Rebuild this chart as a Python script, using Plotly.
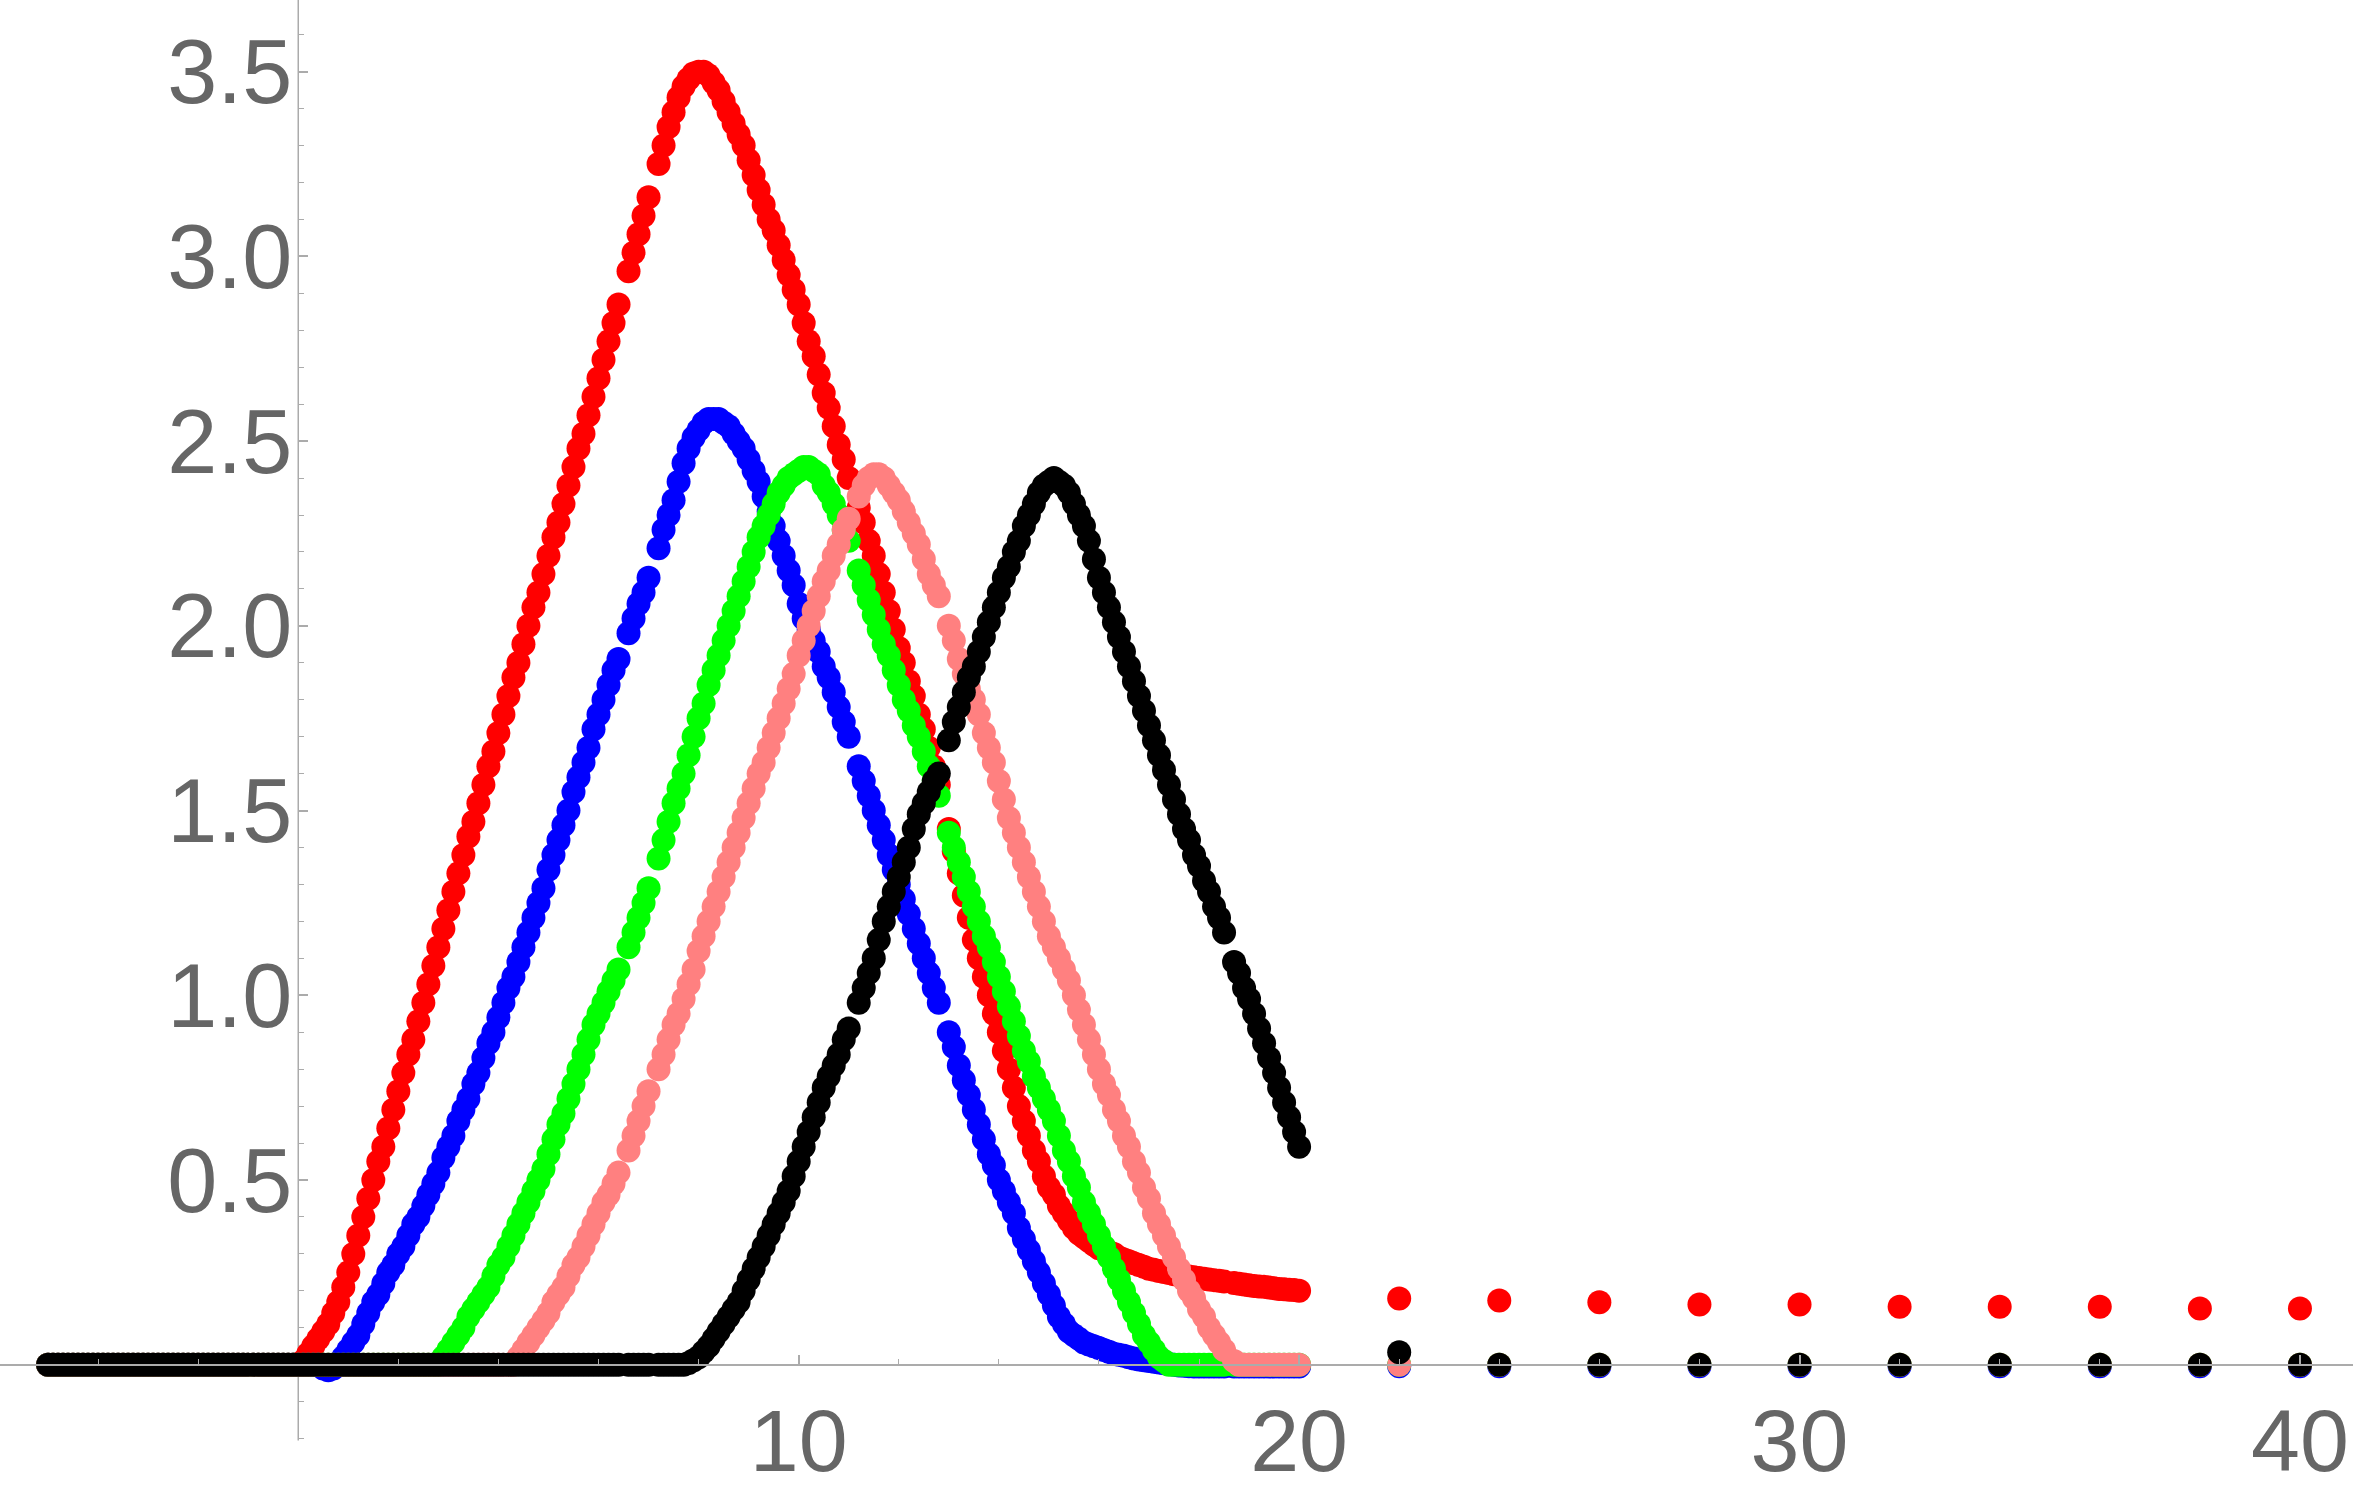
import numpy as np
import plotly.graph_objects as go

# ---------------- data ----------------
# dense sampling grid: x = -5.0 ... 20.0 in steps of 0.1 (251 samples); None = sample absent in the picture
x_dense = np.round(np.arange(-50, 201) / 10.0, 1).tolist()
# sparse tail samples
x_sparse = [22, 24, 26, 28, 30, 32, 34, 36, 38, 40]

Z10 = [0, 0, 0, 0, 0, 0, 0, 0, 0, 0]

red_dense = (
    Z10 + Z10 + Z10 + Z10 + Z10 +                                   # -5 .. -0.1
    [0, 0.01, 0.03, 0.05, 0.07, 0.09, 0.11, 0.14, 0.17, 0.21] +        # 0
    [0.25, 0.30, 0.35, 0.40, 0.45, 0.50, 0.55, 0.59, 0.64, 0.69] +     # 1
    [0.74, 0.79, 0.84, 0.88, 0.93, 0.98, 1.03, 1.08, 1.13, 1.18] +     # 2
    [1.23, 1.28, 1.33, 1.38, 1.43, 1.47, 1.52, 1.57, 1.62, 1.66] +     # 3
    [1.71, 1.76, 1.81, 1.86, 1.90, 1.95, 2.00, 2.05, 2.09, 2.14] +     # 4
    [2.19, 2.24, 2.28, 2.33, 2.38, 2.43, 2.48, 2.52, 2.57, 2.62] +     # 5
    [2.67, 2.72, 2.77, 2.82, 2.87, None, 2.96, 3.01, 3.06, 3.11] +     # 6
    [3.16, None, 3.25, 3.30, 3.35, 3.39, 3.43, 3.46, 3.48, 3.495] +    # 7
    [3.50, 3.50, 3.49, 3.47, 3.45, 3.42, 3.39, 3.36, 3.33, 3.30] +     # 8
    [3.26, 3.22, 3.18, 3.14, 3.10, 3.07, 3.03, 2.99, 2.95, 2.91] +     # 9
    [2.87, 2.82, 2.77, 2.73, 2.68, 2.63, 2.59, 2.54, 2.49, 2.45] +     # 10
    [2.40, None, 2.32, 2.28, 2.23, 2.19, 2.14, 2.09, 2.04, 1.99] +     # 11
    [1.94, 1.90, 1.85, 1.81, 1.76, 1.72, 1.67, 1.62, 1.57, None] +     # 12
    [1.45, 1.39, 1.33, 1.27, 1.21, 1.15, 1.10, 1.05, 1.00, 0.95] +     # 13
    [0.90, 0.85, 0.80, 0.75, 0.70, 0.66, 0.62, 0.58, 0.55, 0.51] +     # 14
    [0.48, 0.46, 0.43, 0.41, 0.39, 0.37, 0.355, 0.345, 0.335, 0.325] + # 15
    [0.315, 0.31, 0.305, 0.30, 0.29, 0.285, 0.28, 0.275, 0.27, 0.265] +  # 16
    [0.26, 0.257, 0.254, 0.251, 0.248, 0.245, 0.243, 0.241, 0.239, 0.237] +  # 17
    [0.235, 0.233, 0.231, 0.229, 0.227, 0.225, None, 0.221, 0.219, 0.217] +  # 18
    [0.215, 0.213, 0.212, 0.211, 0.209, 0.207, 0.205, 0.204, 0.203, 0.202] +  # 19
    [0.20]
)
red_sparse = [0.179, 0.174, 0.169, 0.163, 0.163, 0.157, 0.157, 0.157, 0.152, 0.152]

blue_dense = (
    Z10 + Z10 + Z10 + Z10 + Z10 +
    [0, 0, 0, 0, 0, -0.01, -0.015, -0.01, 0.0, 0.02] +
    [0.04, 0.06, 0.08, 0.11, 0.14, 0.17, 0.19, 0.22, 0.25, 0.27] +
    [0.30, 0.32, 0.35, 0.38, 0.40, 0.43, 0.46, 0.49, 0.52, 0.56] +
    [0.59, 0.62, 0.66, 0.69, 0.72, 0.76, 0.79, 0.83, 0.87, 0.90] +
    [0.94, 0.98, 1.02, 1.05, 1.09, 1.13, 1.17, 1.21, 1.25, 1.29] +
    [1.34, 1.38, 1.42, 1.46, 1.50, 1.55, 1.59, 1.63, 1.67, 1.72] +
    [1.76, 1.80, 1.84, 1.88, 1.91, None, 1.98, 2.02, 2.06, 2.09] +
    [2.13, None, 2.21, 2.26, 2.30, 2.34, 2.39, 2.44, 2.48, 2.51] +
    [2.53, 2.55, 2.56, 2.56, 2.56, 2.55, 2.54, 2.52, 2.50, 2.48] +
    [2.45, 2.42, 2.39, 2.35, 2.31, 2.27, 2.23, 2.19, 2.15, 2.11] +
    [2.06, 2.02, 1.99, 1.96, 1.93, 1.89, 1.86, 1.82, 1.78, 1.74] +
    [1.70, None, 1.62, 1.58, 1.54, 1.50, 1.46, 1.42, 1.38, 1.34] +
    [1.30, 1.26, 1.22, 1.18, 1.14, 1.10, 1.06, 1.02, 0.98, None] +
    [0.90, 0.86, 0.81, 0.77, 0.73, 0.69, 0.65, 0.61, 0.57, 0.54] +
    [0.50, 0.47, 0.44, 0.41, 0.37, 0.34, 0.31, 0.28, 0.25, 0.22] +
    [0.19, 0.16, 0.13, 0.11, 0.09, 0.08, 0.07, 0.06, 0.055, 0.05] +
    [0.045, 0.04, 0.035, 0.03, 0.027, 0.024, 0.02, 0.017, 0.014, 0.012] +
    [0.01, 0.008, 0.006, 0.004, 0.002, 0.0, -0.002, -0.003, -0.004, -0.005] +
    [-0.005, -0.005, -0.005, -0.005, -0.005, -0.005, None, -0.005, -0.005, -0.005] +
    [-0.005, -0.005, -0.005, -0.005, -0.005, -0.005, -0.005, -0.005, -0.005, -0.005] +
    [-0.005]
)
blue_sparse = [-0.004, -0.004, -0.004, -0.004, -0.004, -0.004, -0.004, -0.004, -0.004, -0.004]

green_dense = (
    Z10 + Z10 + Z10 + Z10 + Z10 + Z10 + Z10 +                       # -5 .. 1.9
    [0, 0, 0, 0, 0, 0, 0, 0, 0, 0.02] +                               # 2
    [0.04, 0.06, 0.08, 0.10, 0.13, 0.15, 0.17, 0.19, 0.21, 0.24] +
    [0.27, 0.29, 0.32, 0.35, 0.38, 0.41, 0.44, 0.47, 0.50, 0.53] +
    [0.57, 0.61, 0.65, 0.68, 0.72, 0.76, 0.80, 0.84, 0.88, 0.92] +
    [0.95, 0.98, 1.01, 1.04, 1.07, None, 1.13, 1.17, 1.21, 1.25] +
    [1.29, None, 1.37, 1.42, 1.47, 1.52, 1.56, 1.60, 1.65, 1.70] +
    [1.75, 1.79, 1.84, 1.88, 1.92, 1.96, 2.00, 2.04, 2.08, 2.12] +
    [2.16, 2.20, 2.24, 2.27, 2.30, 2.33, 2.36, 2.38, 2.40, 2.41] +
    [2.42, 2.43, 2.43, 2.42, 2.41, 2.38, 2.36, 2.33, 2.30, 2.26] +
    [2.23, None, 2.15, 2.11, 2.07, 2.03, 1.99, 1.95, 1.92, 1.88] +
    [1.84, 1.80, 1.77, 1.73, 1.70, 1.66, 1.62, 1.58, 1.54, None] +
    [1.44, 1.40, 1.36, 1.32, 1.28, 1.24, 1.20, 1.16, 1.13, 1.09] +
    [1.05, 1.01, 0.97, 0.93, 0.89, 0.85, 0.82, 0.78, 0.75, 0.72] +
    [0.69, 0.66, 0.62, 0.58, 0.55, 0.51, 0.48, 0.44, 0.41, 0.38] +
    [0.35, 0.32, 0.29, 0.26, 0.23, 0.20, 0.17, 0.14, 0.11, 0.08] +
    [0.06, 0.04, 0.02, 0.01, 0, 0, 0, 0, 0, 0] +
    [0, 0, 0, 0, 0, 0, None, 0, 0, 0] +
    Z10 +
    [0]
)
green_sparse = [0, 0, 0, 0, 0, 0, 0, 0, 0, 0]

pink_dense = (
    Z10 + Z10 + Z10 + Z10 + Z10 + Z10 + Z10 + Z10 + Z10 +           # -5 .. 3.9
    [0, 0, 0, 0, 0.02, 0.04, 0.06, 0.08, 0.10, 0.12] +                # 4
    [0.14, 0.17, 0.19, 0.21, 0.24, 0.27, 0.29, 0.32, 0.35, 0.38] +
    [0.41, 0.44, 0.46, 0.49, 0.52, None, 0.58, 0.62, 0.66, 0.70] +
    [0.74, None, 0.80, 0.84, 0.88, 0.92, 0.95, 0.99, 1.03, 1.07] +
    [1.12, 1.16, 1.20, 1.24, 1.28, 1.32, 1.36, 1.40, 1.44, 1.48] +
    [1.52, 1.56, 1.60, 1.63, 1.67, 1.71, 1.75, 1.79, 1.83, 1.87] +
    [1.92, 1.96, 2.00, 2.04, 2.08, 2.12, 2.15, 2.19, 2.22, 2.26] +
    [2.29, None, 2.35, 2.38, 2.40, 2.41, 2.41, 2.40, 2.38, 2.36] +
    [2.34, 2.31, 2.28, 2.25, 2.22, 2.18, 2.14, 2.11, 2.08, None] +
    [2.00, 1.96, 1.91, 1.87, 1.83, 1.80, 1.76, 1.71, 1.67, 1.63] +
    [1.58, 1.53, 1.48, 1.44, 1.40, 1.36, 1.32, 1.28, 1.24, 1.20] +
    [1.16, 1.13, 1.10, 1.07, 1.04, 1.00, 0.96, 0.92, 0.88, 0.84] +
    [0.80, 0.76, 0.73, 0.69, 0.66, 0.62, 0.59, 0.55, 0.52, 0.48] +
    [0.45, 0.41, 0.38, 0.35, 0.32, 0.29, 0.26, 0.23, 0.20, 0.18] +
    [0.15, 0.13, 0.10, 0.08, 0.06, 0.04, None, 0.01, 0, 0] +
    Z10 +
    [0]
)
pink_sparse = [0, 0, 0, 0, 0, 0, 0, 0, 0, 0]

black_dense = (
    Z10 + Z10 + Z10 + Z10 + Z10 + Z10 + Z10 + Z10 + Z10 + Z10 + Z10 +  # -5 .. 5.9
    [0, 0, 0, 0, 0, None, 0, 0, 0, 0] +                                 # 6
    [0, None, 0, 0, 0, 0, 0, 0, 0.005, 0.012] +                         # 7
    [0.02, 0.035, 0.05, 0.07, 0.09, 0.11, 0.13, 0.15, 0.17, 0.20] +
    [0.23, 0.26, 0.29, 0.32, 0.35, 0.38, 0.41, 0.44, 0.47, 0.51] +
    [0.55, 0.59, 0.63, 0.67, 0.71, 0.75, 0.78, 0.81, 0.84, 0.88] +
    [0.91, None, 0.98, 1.02, 1.06, 1.10, 1.15, 1.20, 1.24, 1.28] +
    [1.32, 1.36, 1.40, 1.45, 1.49, 1.52, 1.55, 1.58, 1.60, None] +
    [1.69, 1.74, 1.78, 1.82, 1.86, 1.89, 1.93, 1.97, 2.01, 2.05] +
    [2.09, 2.13, 2.16, 2.20, 2.23, 2.27, 2.30, 2.33, 2.36, 2.38] +
    [2.39, 2.40, 2.39, 2.38, 2.36, 2.33, 2.30, 2.27, 2.23, 2.18] +
    [2.13, 2.09, 2.05, 2.01, 1.97, 1.93, 1.89, 1.85, 1.81, 1.77] +
    [1.73, 1.69, 1.65, 1.61, 1.57, 1.53, 1.49, 1.45, 1.42, 1.38] +
    [1.35, 1.31, 1.28, 1.24, 1.21, 1.17, None, 1.09, 1.06, 1.02] +
    [0.99, 0.95, 0.91, 0.87, 0.83, 0.79, 0.75, 0.71, 0.67, 0.63] +
    [0.59]
)
black_sparse = [0.034, 0, 0, 0, 0, 0, 0, 0, 0, 0]

y_ticks = [0.5, 1.0, 1.5, 2.0, 2.5, 3.0, 3.5]
y_tick_labels = ["0.5", "1.0", "1.5", "2.0", "2.5", "3.0", "3.5"]
x_ticks = [10, 20, 30, 40]
x_tick_labels = ["10", "20", "30", "40"]

series = [
    ("red", red_dense, red_sparse, "#ff0000"),
    ("blue", blue_dense, blue_sparse, "#0000ff"),
    ("green", green_dense, green_sparse, "#00ff00"),
    ("pink", pink_dense, pink_sparse, "#ff8080"),
    ("black", black_dense, black_sparse, "#000000"),
]

for name, d, s, _ in series:
    assert len(d) == len(x_dense), (name, len(d))
    assert len(s) == len(x_sparse), name

# ---------------- figure ----------------
W, H = 2353, 1490
X_RANGE = [-5.96, 41.06]
Y_RANGE = [-0.312, 3.694]
Y_AXIS_BOTTOM = -0.205
AXIS_GRAY = "#ababab"
LABEL_GRAY = "#666666"
FONT = "Liberation Sans, Arial, sans-serif"

fig = go.Figure()
for name, d, s, col in series:
    fig.add_trace(go.Scatter(
        x=x_dense + x_sparse,
        y=d + s,
        mode="markers",
        name=name,
        marker=dict(size=24, color=col, line=dict(width=0)),
        cliponaxis=True,
        showlegend=False,
    ))

x_minor = [v for v in range(-4, 41, 2) if v % 10 != 0]
y_minor = [round(v / 10.0, 1) for v in range(-2, 37) if v % 5 != 0]

# vertical axis line (stops a little below zero, as in the reference)
fig.add_shape(type="line", xref="x", yref="y", x0=0, x1=0,
              y0=Y_AXIS_BOTTOM, y1=Y_RANGE[1],
              line=dict(color=AXIS_GRAY, width=1.5), layer="below")

fig.update_layout(
    width=W, height=H,
    autosize=False,
    margin=dict(l=0, r=0, t=0, b=0, pad=0),
    paper_bgcolor="white",
    plot_bgcolor="white",
    showlegend=False,
    font=dict(family=FONT, color=LABEL_GRAY),
    xaxis=dict(
        range=X_RANGE,
        anchor="free",
        position=(0 - Y_RANGE[0]) / (Y_RANGE[1] - Y_RANGE[0]),
        showgrid=False, zeroline=False,
        showline=True, linecolor=AXIS_GRAY, linewidth=1.5,
        tickmode="array", tickvals=x_ticks, ticktext=x_tick_labels,
        ticks="inside", ticklen=9, tickwidth=1.5, tickcolor=AXIS_GRAY,
        tickfont=dict(size=88, color=LABEL_GRAY, family=FONT),
        minor=dict(tickvals=x_minor, ticks="inside", ticklen=5, tickwidth=1.2,
                   tickcolor=AXIS_GRAY, showgrid=False),
        fixedrange=True,
    ),
    yaxis=dict(
        range=Y_RANGE,
        anchor="free",
        position=(0 - X_RANGE[0]) / (X_RANGE[1] - X_RANGE[0]),
        showgrid=False, zeroline=False,
        showline=False,
        tickmode="array", tickvals=y_ticks, ticktext=y_tick_labels,
        ticks="inside", ticklen=9, tickwidth=1.5, tickcolor=AXIS_GRAY,
        tickfont=dict(size=90, color=LABEL_GRAY, family=FONT),
        ticklabelstandoff=6,
        minor=dict(tickvals=y_minor, ticks="inside", ticklen=5, tickwidth=1.2,
                   tickcolor=AXIS_GRAY, showgrid=False),
        fixedrange=True,
    ),
)

fig.write_html("out.html", include_plotlyjs=True, full_html=True,
               config={"displayModeBar": False})
